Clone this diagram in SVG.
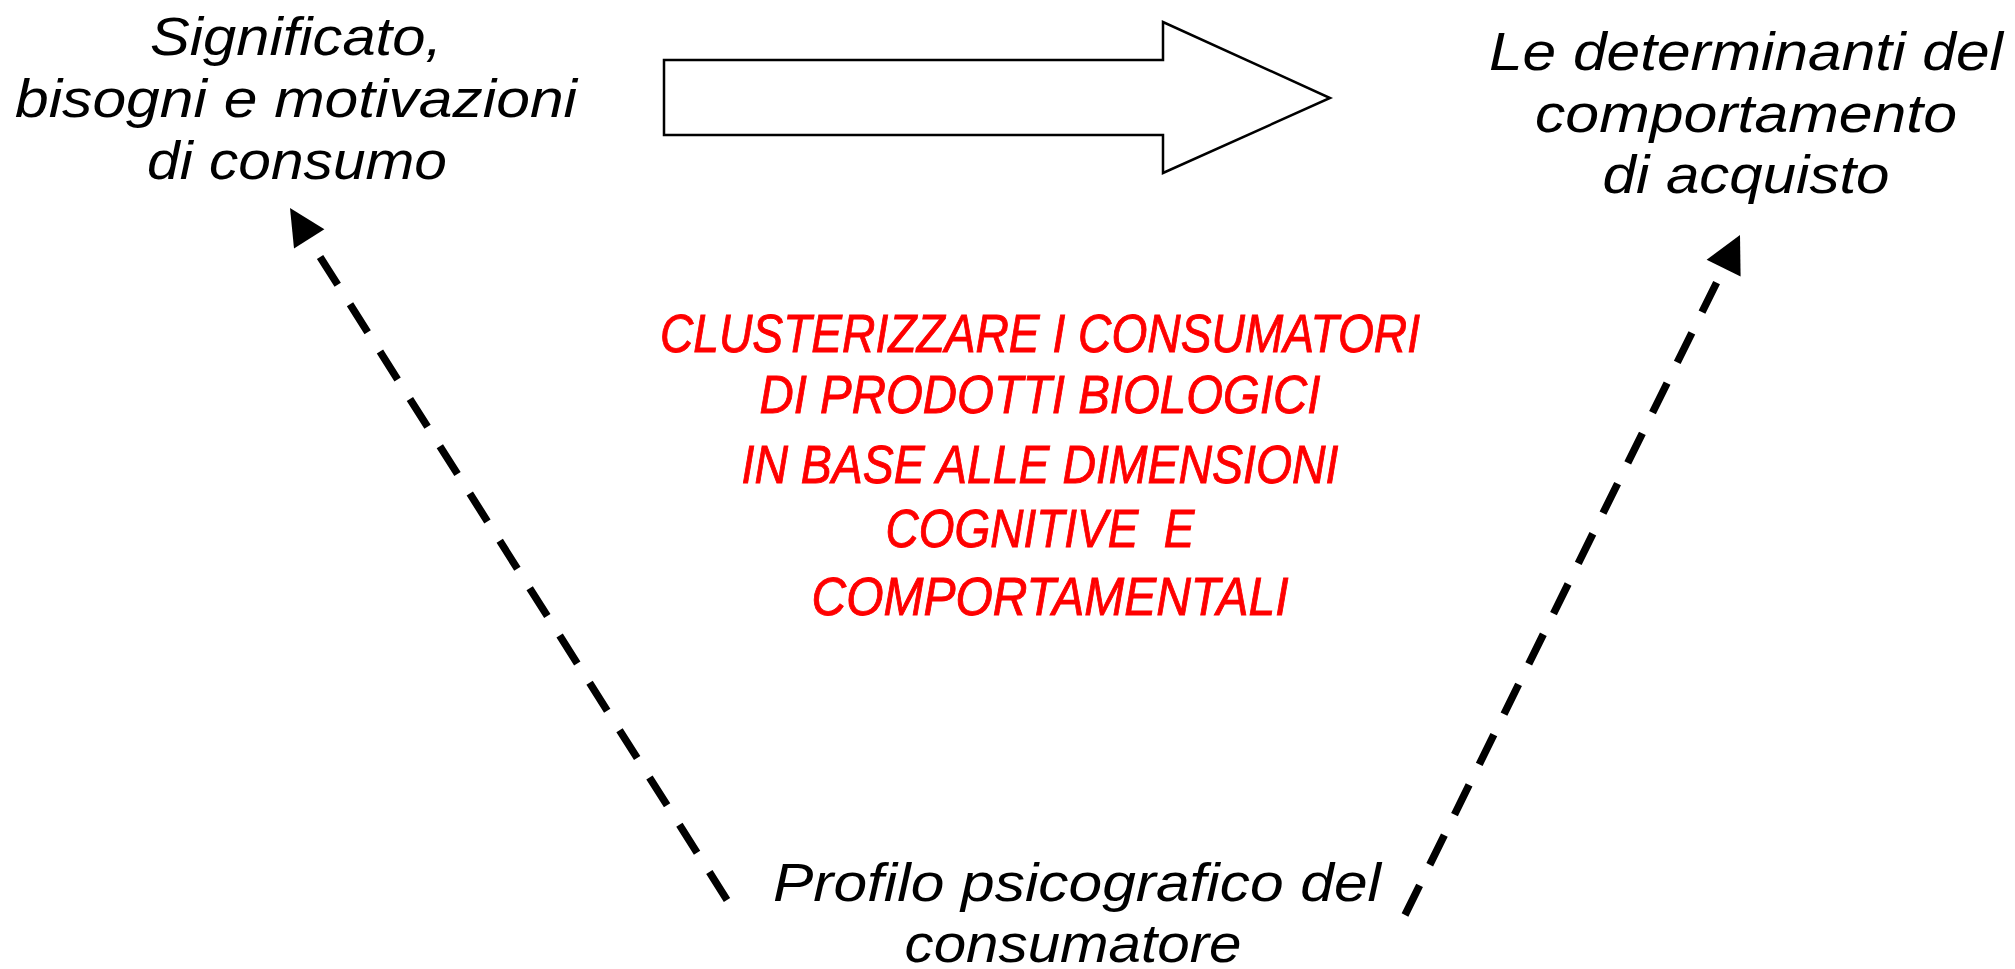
<svg xmlns="http://www.w3.org/2000/svg" width="2015" height="969" viewBox="0 0 2015 969">
<style>
  .lbl{font-family:"Liberation Sans",Arial,sans-serif;font-style:italic;font-size:53px;fill:#000;text-anchor:middle}
  .red{font-family:"Liberation Sans",Arial,sans-serif;font-style:italic;font-size:53px;fill:#FF0000;stroke:#FF0000;stroke-width:0.9;text-anchor:middle;white-space:pre}
  .dash{stroke:#000;stroke-width:7.5;fill:none;stroke-dasharray:33 23}
  .head{fill:#000;stroke:none}
  .big{fill:#fff;stroke:#000;stroke-width:2.5;stroke-linejoin:miter}
</style>
<rect width="2015" height="969" fill="#fff"/>
<g id="node-significato">
  <text class="lbl" x="296" y="55" textLength="292" lengthAdjust="spacingAndGlyphs">Significato,</text>
  <text class="lbl" x="296" y="117" textLength="562" lengthAdjust="spacingAndGlyphs">bisogni e motivazioni</text>
  <text class="lbl" x="297" y="179" textLength="300" lengthAdjust="spacingAndGlyphs">di consumo</text>
</g>
<g id="node-determinanti">
  <text class="lbl" x="1746" y="70" textLength="514" lengthAdjust="spacingAndGlyphs">Le determinanti del</text>
  <text class="lbl" x="1746" y="132" textLength="422" lengthAdjust="spacingAndGlyphs">comportamento</text>
  <text class="lbl" x="1746" y="193" textLength="287" lengthAdjust="spacingAndGlyphs">di acquisto</text>
</g>
<g id="node-profilo">
  <text class="lbl" x="1077" y="901" textLength="608" lengthAdjust="spacingAndGlyphs">Profilo psicografico del</text>
  <text class="lbl" x="1073" y="962" textLength="337" lengthAdjust="spacingAndGlyphs">consumatore</text>
</g>
<g id="node-cluster">
  <text class="red" x="1040" y="352" textLength="760" lengthAdjust="spacingAndGlyphs">CLUSTERIZZARE I CONSUMATORI</text>
  <text class="red" x="1040" y="413" textLength="561" lengthAdjust="spacingAndGlyphs">DI PRODOTTI BIOLOGICI</text>
  <text class="red" x="1040" y="483" textLength="597" lengthAdjust="spacingAndGlyphs">IN BASE ALLE DIMENSIONI</text>
  <text class="red" x="1040" y="547" textLength="309" lengthAdjust="spacingAndGlyphs">COGNITIVE  E</text>
  <text class="red" x="1050" y="615" textLength="477" lengthAdjust="spacingAndGlyphs">COMPORTAMENTALI</text>
</g>
<g id="connectors">
  <polygon id="big-arrow" class="big" points="664,60 1163,60 1163,22 1330,98 1163,173 1163,135 664,135"/>
  <line class="dash" x1="727" y1="900" x2="319.6" y2="256.2"/>
  <polygon class="head" points="290,208 324.4,229.3 294,248.5"/>
  <line class="dash" x1="1405" y1="915" x2="1716.6" y2="282.6"/>
  <polygon class="head" points="1740,235 1740.6,276.6 1706.6,259.8"/>
</g>
</svg>
